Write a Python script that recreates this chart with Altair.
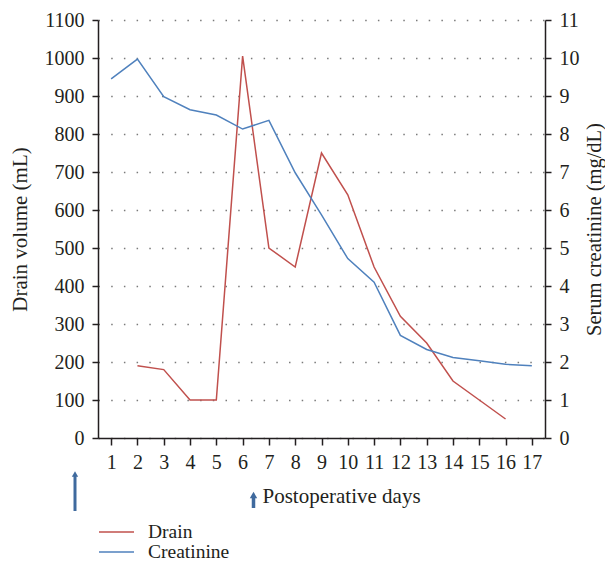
import altair as alt
import pandas as pd

days = list(range(1, 18))
creatinine = [9.45, 9.97, 8.98, 8.64, 8.50, 8.13, 8.36, 6.98, 5.87, 4.72, 4.10, 2.70, 2.33, 2.12, 2.03, 1.94, 1.90]
drain_days = list(range(2, 17))
drain = [190, 180, 100, 100, 1005, 500, 450, 750, 640, 450, 320, 250, 150, 100, 50]

series_names = ["Drain", "Creatinine"]
series_colors = ["#C0504D", "#4F81BD"]
arrow_color = "#3F6A9E"
text_color = "#231F20"
FONT = "Liberation Serif"

df_drain = pd.DataFrame({"day": drain_days, "value": drain, "series": "Drain"})
df_creat = pd.DataFrame({"day": days, "value": creatinine, "series": "Creatinine"})
df_legend = pd.DataFrame({"series": series_names, "row": [0, 1]})

color_scale = alt.Scale(domain=series_names, range=series_colors)

x_enc = alt.X(
    "day:Q",
    scale=alt.Scale(domain=[0.5, 17.5], nice=False, zero=False),
    axis=alt.Axis(
        values=days, format="d", grid=False, title="Postoperative days",
        titleAlign="left", titleBaseline="middle", titleX=164, titleY=58,
        titleFontSize=21, titleFontWeight="normal",
        labelFontSize=20, labelPadding=7, tickSize=7,
    ),
)

drain_line = alt.Chart(df_drain).mark_line(strokeWidth=1.5).encode(
    x=x_enc,
    y=alt.Y(
        "value:Q",
        scale=alt.Scale(domain=[0, 1100], nice=False),
        axis=alt.Axis(
            values=list(range(0, 1101, 100)), format="d", title="Drain volume (mL)",
            orient="left", grid=True, gridDash=[1.5, 11.2], gridColor="#7a7a7a",
            gridWidth=1.5, labelFontSize=20, labelPadding=8, tickSize=6,
            titleAngle=270, titleX=-78, titleY=209, titleAlign="center",
            titleBaseline="middle", titleFontSize=21, titleFontWeight="normal",
        ),
    ),
    color=alt.Color("series:N", scale=color_scale, legend=None),
)

creat_line = alt.Chart(df_creat).mark_line(strokeWidth=1.5).encode(
    x=x_enc,
    y=alt.Y(
        "value:Q",
        scale=alt.Scale(domain=[0, 11], nice=False),
        axis=alt.Axis(
            values=list(range(0, 12)), format="d", title="Serum creatinine (mg/dL)",
            orient="right", grid=False, labelFontSize=20, labelPadding=8, tickSize=6,
            titleAngle=270, titleX=49, titleY=209, titleAlign="center",
            titleBaseline="middle", titleFontSize=20.5, titleFontWeight="normal",
        ),
    ),
    color=alt.Color("series:N", scale=color_scale, legend=None),
)

# manual legend below the chart
legend_y = alt.Y("row:Q", scale=alt.Scale(domain=[0, 1], range=[512, 532]), axis=None)
legend_lines = alt.Chart(df_legend).mark_rule(strokeWidth=1.5).encode(
    x=alt.value(1), x2=alt.value(36), y=legend_y,
    color=alt.Color("series:N", scale=color_scale, legend=None),
)
legend_text = alt.Chart(df_legend).mark_text(
    align="left", baseline="middle", font=FONT, fontSize=19.5, color=text_color
).encode(x=alt.value(50), y=legend_y, text="series:N")

# arrow annotations (pixel positions relative to plot area)
arrow_df = pd.DataFrame({"k": [0]})
big_shaft = alt.Chart(arrow_df).mark_rule(color=arrow_color, strokeWidth=3).encode(
    x=alt.value(-23), y=alt.value(455), y2=alt.value(491)
)
big_head = alt.Chart(arrow_df).mark_point(
    shape="triangle-up", filled=True, color=arrow_color, size=40, opacity=1
).encode(x=alt.value(-23), y=alt.value(454))
small_shaft = alt.Chart(arrow_df).mark_rule(color=arrow_color, strokeWidth=3.5).encode(
    x=alt.value(155.5), y=alt.value(476), y2=alt.value(488)
)
small_head = alt.Chart(arrow_df).mark_point(
    shape="triangle-up", filled=True, color=arrow_color, size=55, opacity=1
).encode(x=alt.value(155.5), y=alt.value(475))

chart = (
    alt.layer(drain_line, creat_line, legend_lines, legend_text,
              big_shaft, big_head, small_shaft, small_head)
    .resolve_scale(y="independent")
    .properties(
        width=447, height=418,
        background="white",
        autosize=alt.AutoSizeParams(type="none"),
        padding={"left": 90, "top": 12, "right": 60, "bottom": 125},
    )
    .configure_view(stroke=None)
    .configure_axis(
        labelFont=FONT, titleFont=FONT, labelColor=text_color, titleColor=text_color,
        domainColor=text_color, tickColor=text_color, domainWidth=1.5, tickWidth=1.5,
    )
)

chart.save("out.html", embed_options={"renderer": "svg", "actions": False})
